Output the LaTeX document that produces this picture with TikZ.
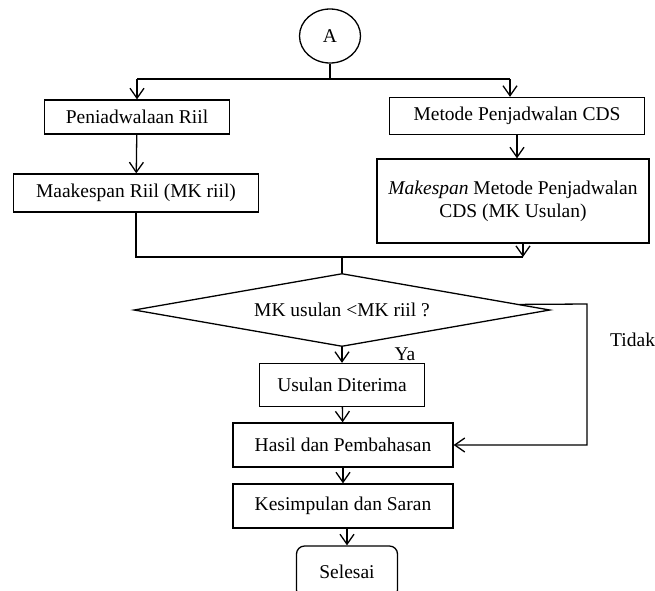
\documentclass[tikz,border=0pt]{standalone}
\usepackage{fontspec}
\setmainfont{Liberation Serif}
\usetikzlibrary{arrows.meta,shapes.geometric,calc}

\tikzset{
  line/.style={line width=1.3pt},
  arr/.style={line, -{Straight Barb[length=10pt,width=14pt,line width=1.3pt]}},
  proc/.style={draw, line width=1.3pt, fill=white, align=center, inner sep=2pt},
  decide/.style={draw, diamond, aspect=5.7, line width=1.3pt, fill=white, inner sep=0pt,
    minimum width=416pt, minimum height=73pt},
  term/.style={proc, rounded corners=8pt},
  conn/.style={draw, ellipse, line width=1.3pt, minimum width=61pt, minimum height=54pt, inner sep=0pt}
}

\begin{document}
\begin{tikzpicture}[x=1pt,y=-1pt,font=\fontsize{19.5}{23}\selectfont]
\useasboundingbox (0,0) rectangle (655,590);

% konektor awal
\node[conn] (A) at (330,36) {A};

% cabang kiri dan kanan
\node[proc, minimum width=185pt, minimum height=34pt] (pen) at (137,117) {Peniadwalaan Riil};
\node[proc, minimum width=255pt, minimum height=37pt] (met) at (517,116) {Metode Penjadwalan CDS};
\node[proc, minimum width=245pt, minimum height=38pt] (mkr) at (136,193) {Maakespan Riil (MK riil)};
\node[proc, minimum width=272pt, minimum height=84pt] (cds) at (513,201)
  {\textit{Makespan} Metode Penjadwalan\\CDS (MK Usulan)};

% keputusan
\node[decide] (dec) at (342,310) {MK usulan {<}MK riil ?};
\node[proc, minimum width=165pt, minimum height=43pt] (usul) at (342,385) {Usulan Diterima};
\node[proc, minimum width=220pt, minimum height=44pt] (hasil) at (343,445) {Hasil dan Pembahasan};
\node[proc, minimum width=220pt, minimum height=44pt] (kes) at (343,506) {Kesimpulan dan Saran};
\node[term, minimum width=101pt, minimum height=52pt] (sel) at (347,572) {Selesai};

\node (ya) at (405,354) {Ya};
\node[anchor=west, inner sep=0pt] (tidak) at (610,340) {Tidak};

% garis
\coordinate (splitL) at (137,79);
\coordinate (splitR) at (510,79);
\coordinate (joinL) at (136,257);
\coordinate (joinR) at (523,257);
\coordinate (joinM) at (342,257);
\coordinate (loopS) at ($(dec.north)!0.85!(dec.east)$);
\coordinate (loopX) at (587,304);

\draw[line] (A) -- (A |- splitL);
\draw[line] (splitL) -- (splitR);
\draw[arr] (splitL) -- (pen);
\draw[arr] (splitR) -- (splitR |- met.north);
\draw[arr] (pen) -- (mkr);
\draw[arr] (met) -- (met |- cds.north);

\draw[line] (mkr) -- (joinL) -- (joinR);
\draw[arr] (cds.south -| joinR) -- (joinR);
\draw[line] (joinM) -- (dec.north);

\draw[arr] (dec) -- (usul);
\draw[arr] (usul) -- (hasil);
\draw[arr] (hasil) -- (kes);
\draw[arr] (kes.south -| sel) -- (sel);
\draw[arr] (loopS) -- (loopX) |- (hasil.east);
\end{tikzpicture}
\end{document}
